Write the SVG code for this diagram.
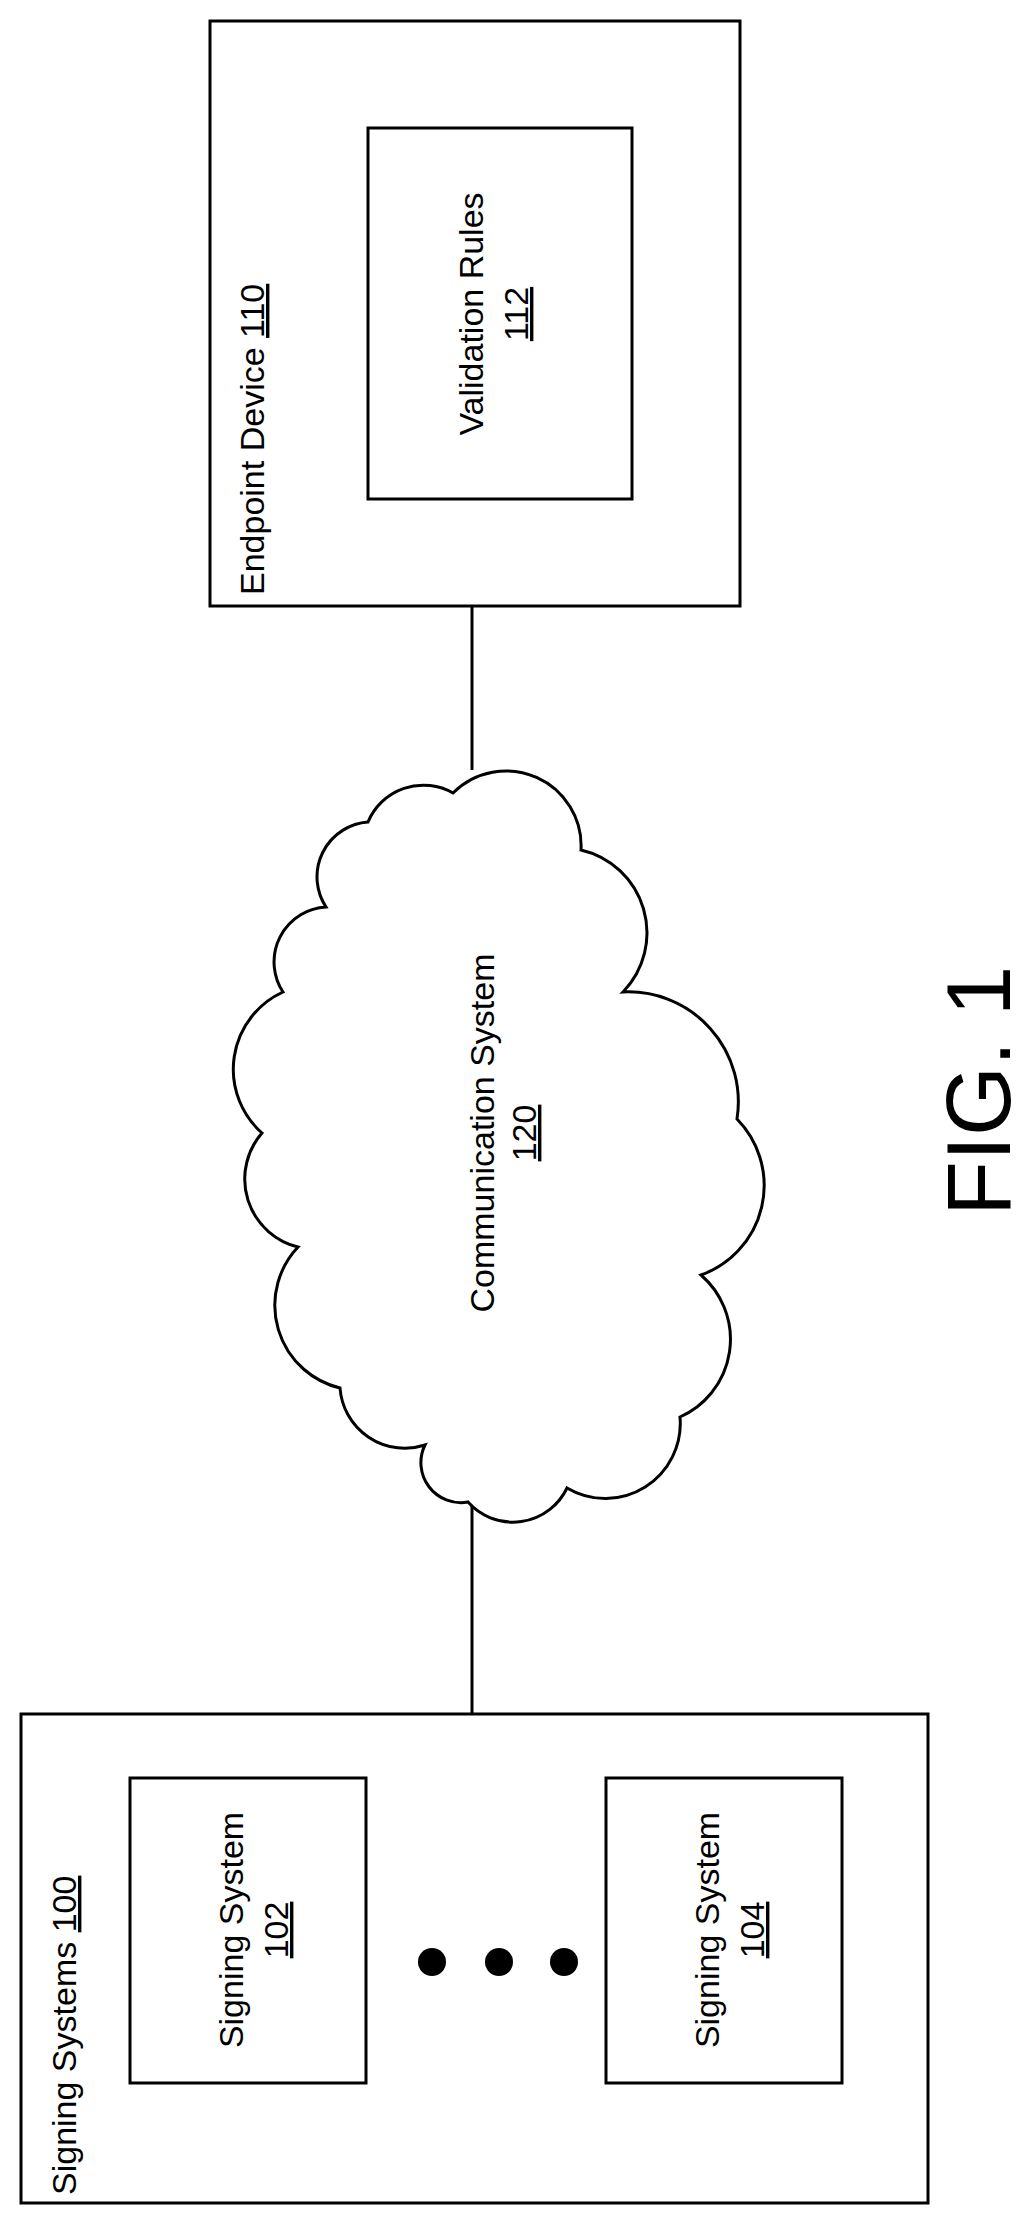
<svg xmlns="http://www.w3.org/2000/svg" width="1030" height="2225" viewBox="0 0 1030 2225">
<style>
.b{fill:#fff;stroke:#000;stroke-width:3}
.t{font-family:"Liberation Sans",Arial,sans-serif;font-size:34px;fill:#000}
.c{stroke:#000;stroke-width:3;fill:none}
</style>
<rect width="1030" height="2225" fill="#fff"/>
<g id="connectors">
<line class="c" x1="472" y1="606" x2="472" y2="770"/>
<line class="c" x1="472" y1="1500" x2="472" y2="1714"/>
</g>
<g id="endpoint">
<rect class="b" x="210" y="21" width="530" height="585"/>
<text class="t" transform="translate(264,595) rotate(-90)">Endpoint Device <tspan text-decoration="underline">110</tspan></text>
</g>
<g id="rules">
<rect class="b" x="368" y="128" width="264" height="371"/>
<text class="t" text-anchor="middle" transform="translate(483,314) rotate(-90)">Validation Rules</text>
<text class="t" text-anchor="middle" text-decoration="underline" transform="translate(528,314) rotate(-90)">112</text>
</g>
<g id="cloud">
<path class="b" d="M453,793 A75,75 0 0 1 581,850 A85,85 0 0 1 623,992 A110,110 0 0 1 737,1119 A95,95 0 0 1 701,1275 A85,85 0 0 1 680,1417 A75,75 0 0 1 567,1488 A60,60 0 0 1 468,1502 A40,40 0 0 1 425,1445 A65,65 0 0 1 340,1388 A85,85 0 0 1 298,1247 A70,70 0 0 1 262,1133 A85,85 0 0 1 283,992 A55,55 0 0 1 326,907 A55,55 0 0 1 368,822 A60,60 0 0 1 453,793 Z"/>
<text class="t" text-anchor="middle" transform="translate(494,1133) rotate(-90)">Communication System</text>
<text class="t" text-anchor="middle" text-decoration="underline" transform="translate(536,1133) rotate(-90)">120</text>
</g>
<g id="signing">
<rect class="b" x="21" y="1714" width="907" height="489"/>
<text class="t" transform="translate(76,2195) rotate(-90)">Signing Systems <tspan text-decoration="underline">100</tspan></text>
</g>
<g id="s102">
<rect class="b" x="130" y="1778" width="236" height="305"/>
<text class="t" text-anchor="middle" transform="translate(243,1930) rotate(-90)">Signing System</text>
<text class="t" text-anchor="middle" text-decoration="underline" transform="translate(288,1930) rotate(-90)">102</text>
</g>
<g id="s104">
<rect class="b" x="606" y="1778" width="236" height="305"/>
<text class="t" text-anchor="middle" transform="translate(719,1930) rotate(-90)">Signing System</text>
<text class="t" text-anchor="middle" text-decoration="underline" transform="translate(764,1930) rotate(-90)">104</text>
</g>
<g id="dots">
<circle cx="432" cy="1962" r="14"/>
<circle cx="499" cy="1962" r="14"/>
<circle cx="564" cy="1962" r="14"/>
</g>
<text font-family="Liberation Sans,Arial,sans-serif" font-size="90" text-anchor="middle" transform="translate(1010,1091) rotate(-90)">FIG. 1</text>
</svg>
